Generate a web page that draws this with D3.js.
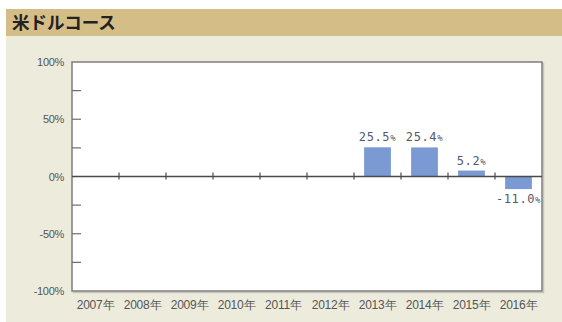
<!DOCTYPE html>
<html>
<head>
<meta charset="utf-8">
<script src="https://cdn.jsdelivr.net/npm/d3@7"></script>
<style>
  html, body { margin: 0; padding: 0; background: #ffffff; }
  svg { display: block; }
</style>
</head>
<body>
<svg id="chart" width="562" height="322"></svg>
<script>
const title = "米ドルコース";
const years = ["2007年", "2008年", "2009年", "2010年", "2011年", "2012年", "2013年", "2014年", "2015年", "2016年"];
const returns = [null, null, null, null, null, null, 25.5, 25.4, 5.2, -11.0];
const yTicks = [100, 50, 0, -50, -100];
const yMinorTicks = [75, 50, 25, -25, -50, -75];

const svg = d3.select("#chart");
const W = 562, H = 322;

// panel background and title band
svg.append("rect").attr("x", 0).attr("y", 0).attr("width", W).attr("height", H).attr("fill", "#ffffff");
svg.append("rect").attr("x", 6).attr("y", 9).attr("width", W - 6).attr("height", H - 9).attr("fill", "#ecebdc");
svg.append("rect").attr("x", 6).attr("y", 9).attr("width", W - 6).attr("height", 27).attr("fill", "#d5bd87");
svg.append("text").attr("x", 12).attr("y", 29)
  .attr("font-family", "'Noto Sans CJK JP', sans-serif").attr("font-weight", "bold")
  .attr("font-size", 17.5).attr("fill", "#222").text(title);

const plot = { left: 72, right: 542, top: 62, bottom: 291 };

const x = d3.scaleBand().domain(years).range([plot.left, plot.right]).paddingInner(0.43).paddingOuter(0.215);
const xb = d3.scaleBand().domain(years).range([plot.left, plot.right]);
const y = d3.scaleLinear().domain([-100, 100]).range([plot.bottom, plot.top]);

// plot area with shadowed frame
svg.append("rect").attr("x", plot.left + 1.5).attr("y", plot.top + 1.5)
  .attr("width", plot.right - plot.left).attr("height", plot.bottom - plot.top)
  .attr("fill", "none").attr("stroke", "#c8c6bb").attr("stroke-width", 1.5);
svg.append("rect").attr("x", plot.left).attr("y", plot.top)
  .attr("width", plot.right - plot.left).attr("height", plot.bottom - plot.top)
  .attr("fill", "#ffffff").attr("stroke", "#7d7d7d").attr("stroke-width", 1.5);

// inner minor ticks on the value axis
svg.append("g").selectAll("line").data(yMinorTicks).join("line")
  .attr("x1", plot.left).attr("x2", plot.left + 9)
  .attr("y1", d => y(d)).attr("y2", d => y(d))
  .attr("stroke", "#6e6e6e").attr("stroke-width", 1.2);

// value axis labels
const yAxis = d3.axisLeft(y).tickValues(yTicks).tickSize(0).tickPadding(8).tickFormat(d => d + "%");
const gy = svg.append("g").attr("transform", `translate(${plot.left},0)`).call(yAxis);
gy.select(".domain").remove();
gy.selectAll("text").attr("font-family", "'Liberation Sans', Arial, sans-serif")
  .attr("font-size", 11).attr("fill", "#555").attr("letter-spacing", "-0.3");

// category labels
const xAxis = d3.axisBottom(xb).tickSize(0).tickPadding(9);
const gx = svg.append("g").attr("transform", `translate(0,${plot.bottom})`).call(xAxis);
gx.select(".domain").remove();
gx.selectAll("text").attr("font-family", "'Liberation Sans', Arial, sans-serif")
  .attr("font-size", 12).attr("fill", "#555").attr("letter-spacing", "-0.2");

// bars
const data = years.map((yr, i) => ({ yr, v: returns[i] })).filter(d => d.v !== null);
svg.append("g").selectAll("rect").data(data).join("rect")
  .attr("x", d => x(d.yr)).attr("width", x.bandwidth())
  .attr("y", d => y(Math.max(0, d.v)))
  .attr("height", d => Math.abs(y(d.v) - y(0)))
  .attr("fill", "#7b9ad4");

// zero line and category boundary ticks
svg.append("line").attr("x1", plot.left).attr("x2", plot.right)
  .attr("y1", y(0)).attr("y2", y(0)).attr("stroke", "#4a4a4a").attr("stroke-width", 1.3);
svg.append("g").selectAll("line").data(years.slice(1)).join("line")
  .attr("x1", d => xb(d)).attr("x2", d => xb(d))
  .attr("y1", y(0) - 4).attr("y2", y(0) + 3)
  .attr("stroke", "#4a4a4a").attr("stroke-width", 1.2);

// value labels
const lbl = svg.append("g").selectAll("text").data(data).join("text")
  .attr("x", d => x(d.yr) + x.bandwidth() / 2)
  .attr("y", d => d.v >= 0 ? y(d.v) - 6 : y(d.v) + 14)
  .attr("text-anchor", "middle")
  .attr("font-family", "'DejaVu Sans Mono', monospace")
  .attr("font-size", 12).attr("letter-spacing", "0.6").attr("fill", "#525a6e");
lbl.append("tspan").text(d => d.v.toFixed(1));
lbl.append("tspan").attr("font-size", 9).text("%");
</script>
</body>
</html>
